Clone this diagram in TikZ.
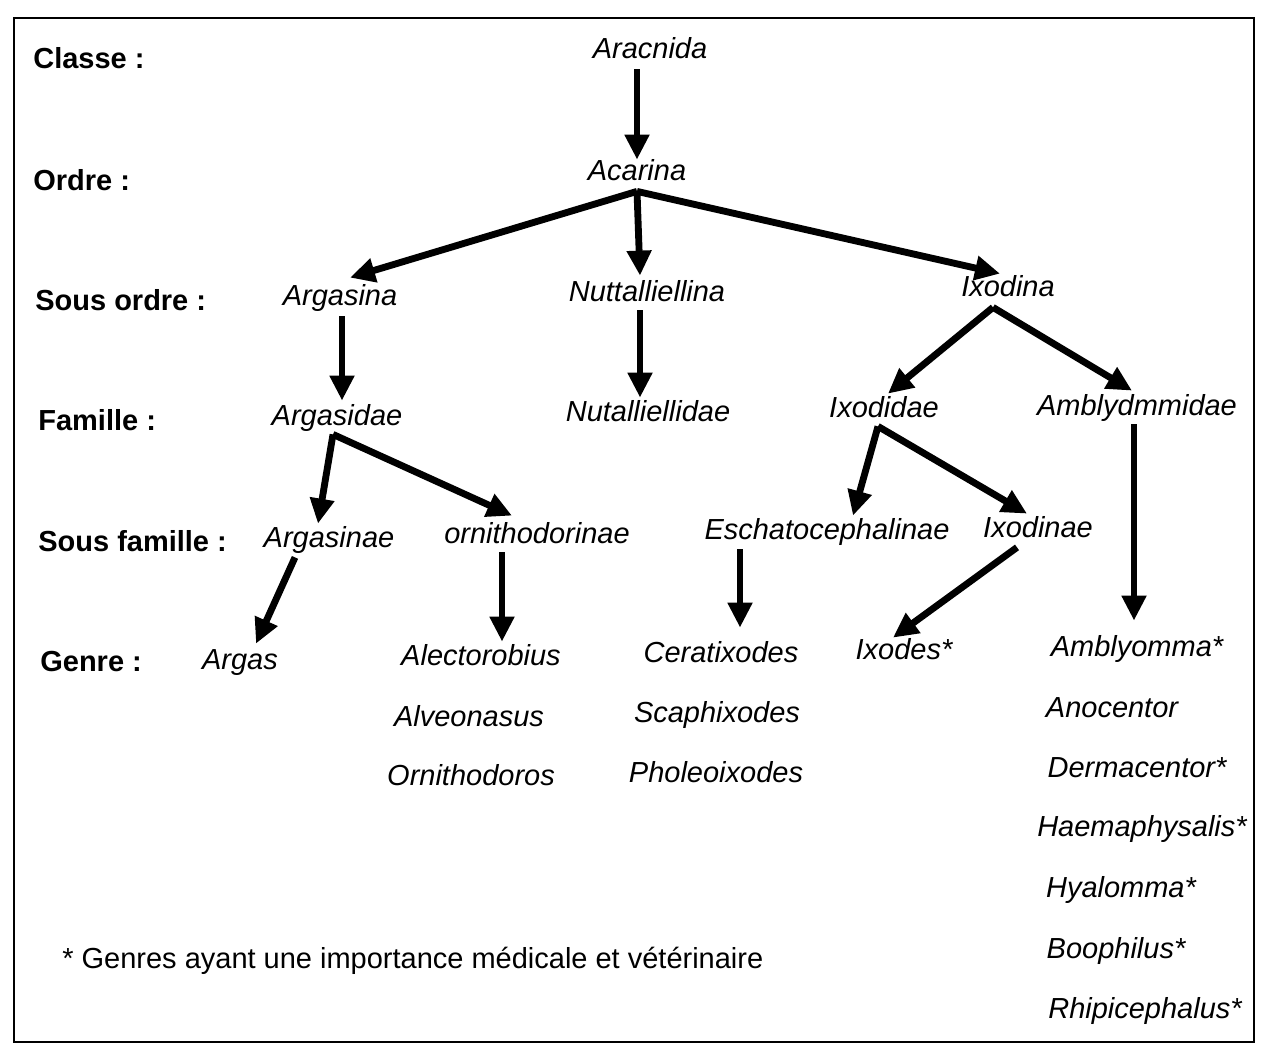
\documentclass[tikz,border=0pt]{standalone}
\usepackage{fontspec}
\setmainfont{Liberation Sans}
\usetikzlibrary{arrows.meta}
\usetikzlibrary{calc}

\begin{document}
\begin{tikzpicture}[x=0.02cm, y=-0.02cm,
    taxon/.style = {font=\fontsize{16.5}{20}\selectfont\itshape, inner sep=2pt, text height=0.95em, text depth=0.02em},
    rank/.style  = {font=\fontsize{16.5}{20}\selectfont\bfseries, anchor=west, inner sep=0pt},
    arr/.style   = {line width=3.9pt, -{Triangle[length=0.5cm, width=0.47cm]}}]
            \useasboundingbox (0,0) rectangle (1271,1049);
            \draw[black, line width=1.1pt] (14,18) rectangle (1254,1042);
            % rangs
            \node[rank] (classe) at (33,58) {Classe :};
            \node[rank] (ordre) at (33,180) {Ordre :};
            \node[rank] (sordre) at (35,300) {Sous ordre :};
            \node[rank] (famille) at (38,420) {Famille :};
            \node[rank] (sfam) at (38,541) {Sous famille :};
            \node[rank] (genre) at (40,662) {Genre :};
            % taxons
            \node[taxon] (arac) at (650,50) {Aracnida};
            \node[taxon] (acar) at (637,172) {Acarina};
            \node[taxon] (argi) at (340,297) {Argasina};
            \node[taxon] (nuti) at (647,293) {Nuttalliellina};
            \node[taxon] (ixoi) at (1008,288) {Ixodina};
            \node[taxon] (argd) at (337,417) {Argasidae};
            \node[taxon] (nutd) at (648,413) {Nutalliellidae};
            \node[taxon] (ixdd) at (884,409) {Ixodidae};
            \node[taxon] (ambd) at (1137,407) {Amblydmmidae};
            \node[taxon] (argn) at (329,539) {Argasinae};
            \node[taxon] (orni) at (537,535) {ornithodorinae};
            \node[taxon] (esch) at (827,531) {Eschatocephalinae};
            \node[taxon] (ixdn) at (1038,529) {Ixodinae};
            \node[taxon] (argas) at (240,661) {Argas};
            \node[taxon] (alec) at (481,657) {Alectorobius};
            \node[taxon] (alve) at (469,718) {Alveonasus};
            \node[taxon] (ornd) at (471,777) {Ornithodoros};
            \node[taxon] (cera) at (721,654) {Ceratixodes};
            \node[taxon] (scap) at (717,714) {Scaphixodes};
            \node[taxon] (phol) at (716,774) {Pholeoixodes};
            \node[taxon] (ixodes) at (904,651) {Ixodes*};
            \node[taxon] (ambl) at (1137,648) {Amblyomma*};
            \node[taxon] (anoc) at (1112,709) {Anocentor};
            \node[taxon] (derm) at (1137,769) {Dermacentor*};
            \node[taxon] (haem) at (1142,828) {Haemaphysalis*};
            \node[taxon] (hyal) at (1121,889) {Hyalomma*};
            \node[taxon] (boop) at (1116,950) {Boophilus*};
            \node[taxon] (rhip) at (1145,1010) {Rhipicephalus*};
            \node[font=\fontsize{16.5}{20}\selectfont, anchor=west, inner sep=0pt] (note) at (62,961) {* Genres ayant une importance médicale et vétérinaire};
            % fleches
            \draw[arr] ($(arac.south)+(-13,7)$) -- (acar.north);
            \draw[arr] ($(acar.south)+(0,7)$) -- ($(argi.north)+(10,-7)$);
            \draw[arr] ($(acar.south)+(0,7)$) -- ($(nuti.north)+(-7,-5)$);
            \draw[arr] ($(acar.south)+(0,7)$) -- ($(ixoi.north)+(-8,-2)$);
            \draw[arr] ($(argi.south)+(2,7)$) -- ($(argd.north)+(5,-4)$);
            \draw[arr] ($(nuti.south)+(-7,5)$) -- ($(nutd.north)+(-8,-3)$);
            \draw[arr] ($(ixoi.south)+(-15,7)$) -- ($(ixdd.north)+(4,-3)$);
            \draw[arr] ($(ixoi.south)+(-15,7)$) -- ($(ambd.north)+(-5,-4)$);
            \draw[arr] ($(argd.south)+(-4,5)$) -- ($(argn.north)+(-11,-3)$);
            \draw[arr] ($(argd.south)+(-4,5)$) -- ($(orni.north)+(-25,-7)$);
            \draw[arr] ($(ixdd.south)+(-6,5)$) -- ($(esch.north)+(26,-3)$);
            \draw[arr] ($(ixdd.south)+(-6,5)$) -- ($(ixdn.north)+(-11,-3)$);
            \draw[arr] ($(argn.south)+(-34,6)$) -- ($(argas.north)+(16,-5)$);
            \draw[arr] ($(orni.south)+(-35,5)$) -- ($(alec.north)+(21,-3)$);
            \draw[arr] ($(esch.south)+(-87,6)$) -- ($(cera.north)+(19,-14)$);
            \draw[arr] ($(ixdn.south)+(-21,6)$) -- ($(ixodes.north)+(-11,-1)$);
            \draw[arr] ($(ambd.south)+(-3,5)$) -- ($(ambl.north)+(-3,-15)$);
        \end{tikzpicture}
\end{document}
